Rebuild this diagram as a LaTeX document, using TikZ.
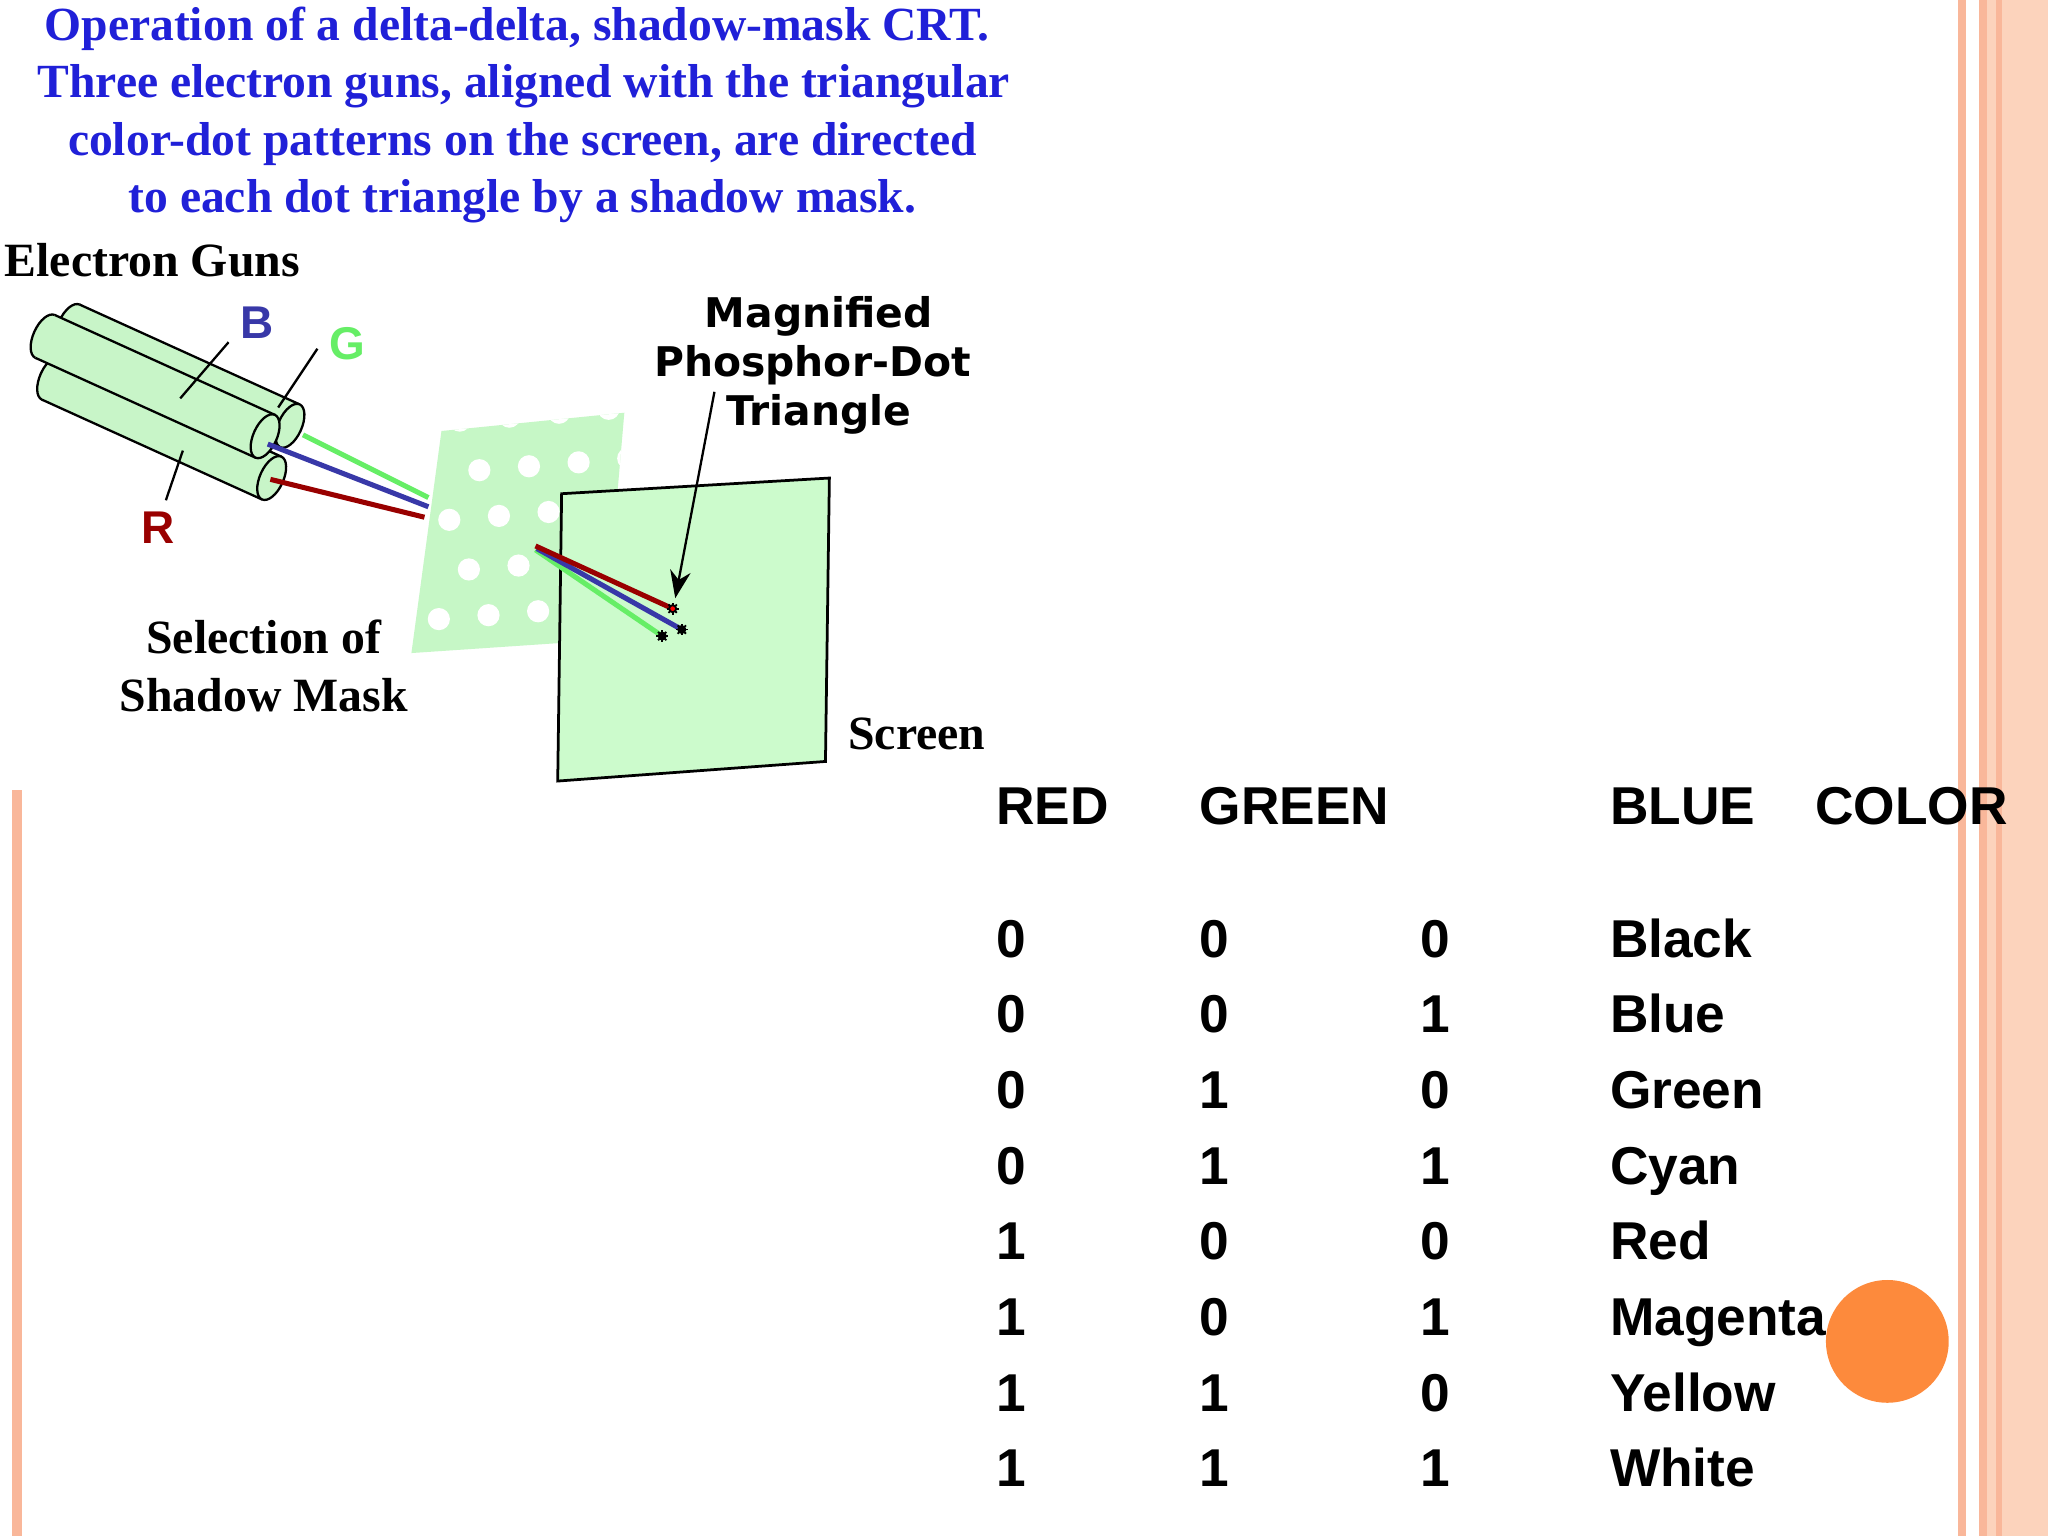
\documentclass[tikz,border=0pt]{standalone}
\usepackage{fontspec}
\usetikzlibrary{arrows.meta}
\newfontfamily\tabfont{Liberation Sans}
\newfontfamily\dvs{DejaVu Sans}
\newfontfamily\lsf{Liberation Serif}
\definecolor{titleblue}{HTML}{2020D8}
\definecolor{gunfill}{HTML}{C8F5C8}
\definecolor{maskfill}{HTML}{C6F7C6}
\definecolor{scrfill}{HTML}{CCFBCC}
\definecolor{bcol}{HTML}{3838A8}
\definecolor{gcol}{HTML}{66EE66}
\definecolor{rcol}{HTML}{990000}
\definecolor{salmon}{HTML}{F9B79A}
\definecolor{peach}{HTML}{FCD3BC}
\definecolor{dot}{HTML}{FD8A3C}
\tikzset{
 ttl/.style={text=titleblue,font=\lsf\fontsize{10.36}{12}\selectfont\bfseries,anchor=center},
 srf/.style={font=\lsf\fontsize{10.4}{12}\selectfont\bfseries,anchor=center},
 tab/.style={font=\tabfont\fontsize{11.6}{14}\selectfont\bfseries,anchor=base west,inner sep=0pt},
 mag/.style={font=\dvs\fontsize{8.9}{11}\selectfont\bfseries,anchor=center},
 lbl/.style={font=\tabfont\fontsize{10}{12}\selectfont\bfseries,anchor=center},
 beam/.style={line width=1.1pt},
 lead/.style={line width=0.5pt}
}
\begin{document}
\begin{tikzpicture}[x=0.01cm,y=-0.01cm]
\useasboundingbox (0,0) rectangle (1568,1176);
% decorative stripes
\fill[peach] (1515,0) rectangle (1568,1176);
\fill[salmon] (1515,0) rectangle (1521,1176);
\fill[salmon] (1528,0) rectangle (1533,1176);
\fill[salmon] (1499,0) rectangle (1505,1176);
\fill[salmon] (9,605) rectangle (17,1176);
\fill[white] (0,0) rectangle (778,600);
% title
\node[ttl] (t1) at (396,22) {Operation of a delta-delta, shadow-mask CRT.};
\node[ttl] (t2) at (401,66) {Three electron guns, aligned with the triangular};
\node[ttl] (t3) at (400,110) {color-dot patterns on the screen, are directed};
\node[ttl] (t4) at (400,154) {to each dot triangle by a shadow mask.};
\node[srf,anchor=west,inner sep=0pt] (eg) at (3,199) {Electron Guns};
% guns
\foreach \cx/\cy in {222/326, 208/366, 203/334}{
  \begin{scope}[shift={(\cx,\cy)},rotate=-24.4]
   \filldraw[gunfill,draw=black,line width=0.5pt] (-185,0) ellipse[x radius=9,y radius=18];
   \fill[gunfill] (-185,-18) rectangle (0,18);
   \draw[line width=0.5pt] (-185,-18) -- (0,-18) (-185,18) -- (0,18);
   \filldraw[gunfill,draw=black,line width=0.5pt] (0,0) ellipse[x radius=9,y radius=18];
  \end{scope}}
% mask
\begin{scope}
 \clip (338,330) -- (478,316) -- (463,490) -- (315,500) -- cycle;
 \fill[maskfill] (300,300) rectangle (500,520);
 \foreach \j in {0,...,5}{
  \foreach \i in {0,...,4}{
   \fill[white] ({352+38*\i-4*\j+(mod(\j,2))*19},{322+38*\j-3*\i}) circle (8.5);
  }}
\end{scope}
% beams to mask
\coordinate (gs) at (232,333); \coordinate (ge) at (328,381);
\coordinate (bs) at (205,340); \coordinate (be) at (328,388);
\coordinate (rs) at (207,367); \coordinate (re) at (325,396);
\draw[beam,gcol] (gs) -- (ge);
\draw[beam,bcol] (bs) -- (be);
\draw[beam,rcol] (rs) -- (re);
% screen
\draw[fill=scrfill,line width=0.6pt] (430,378) -- (635,366) -- (632,583) -- (427,598) -- cycle;
% beams to screen
\coordinate (m) at (410,418);
\coordinate (rd) at (515,466); \coordinate (bd) at (522,482); \coordinate (gd) at (507,487);
\draw[beam,gcol] (410,421) -- (gd);
\draw[beam,bcol] (411,420) -- (bd);
\draw[beam,rcol] (m) -- (rd);
\foreach \p in {rd,bd,gd}{\draw[line width=0.5pt] (\p) circle (2.5);
 \foreach \a in {0,45,...,315}{\draw[line width=0.4pt] (\p) -- ++(\a:4.5);}}
\fill[red] (rd) circle (1.8);
% labels
\node[lbl,text=bcol] (B) at (197,247) {B};
\node[lbl,text=gcol] (G) at (266,263) {G};
\node[lbl,text=rcol] (R) at (121,404) {R};
\draw[lead] (175,262) -- (138,305);
\draw[lead] (243,267) -- (213,312);
\draw[lead] (127,383) -- (140,345);
\node[mag] (m1) at (627,242) {Magnified};
\node[mag] (m2) at (622,280) {Phosphor-Dot};
\node[mag] (m3) at (627,317) {Triangle};
\coordinate (ma) at (547,300);
\draw[lead,-{Stealth[length=6pt]}] (ma) -- (517,458);
\node[srf] (s1) at (202,488) {Selection of};
\node[srf] (s2) at (202,532) {Shadow Mask};
\node[srf] (sc) at (702,562) {Screen};
% table
\foreach \t/\x in {RED/762,GREEN/918,BLUE/1232,COLOR/1389}{\node[tab] at (\x,631) {\t};}
\foreach \a/\b/\c/\n [count=\k] in {0/0/0/Black,0/0/1/Blue,0/1/0/Green,0/1/1/Cyan,1/0/0/Red,1/0/1/Magenta,1/1/0/Yellow,1/1/1/White}{
 \node[tab] at (762,{675+57.9*\k}) {\a};
 \node[tab] at (918,{675+57.9*\k}) {\b};
 \node[tab] at (1087,{675+57.9*\k}) {\c};
 \node[tab] at (1232,{675+57.9*\k}) {\n};
}
\fill[dot] (1445,1027) circle (47);
\end{tikzpicture}
\end{document}
